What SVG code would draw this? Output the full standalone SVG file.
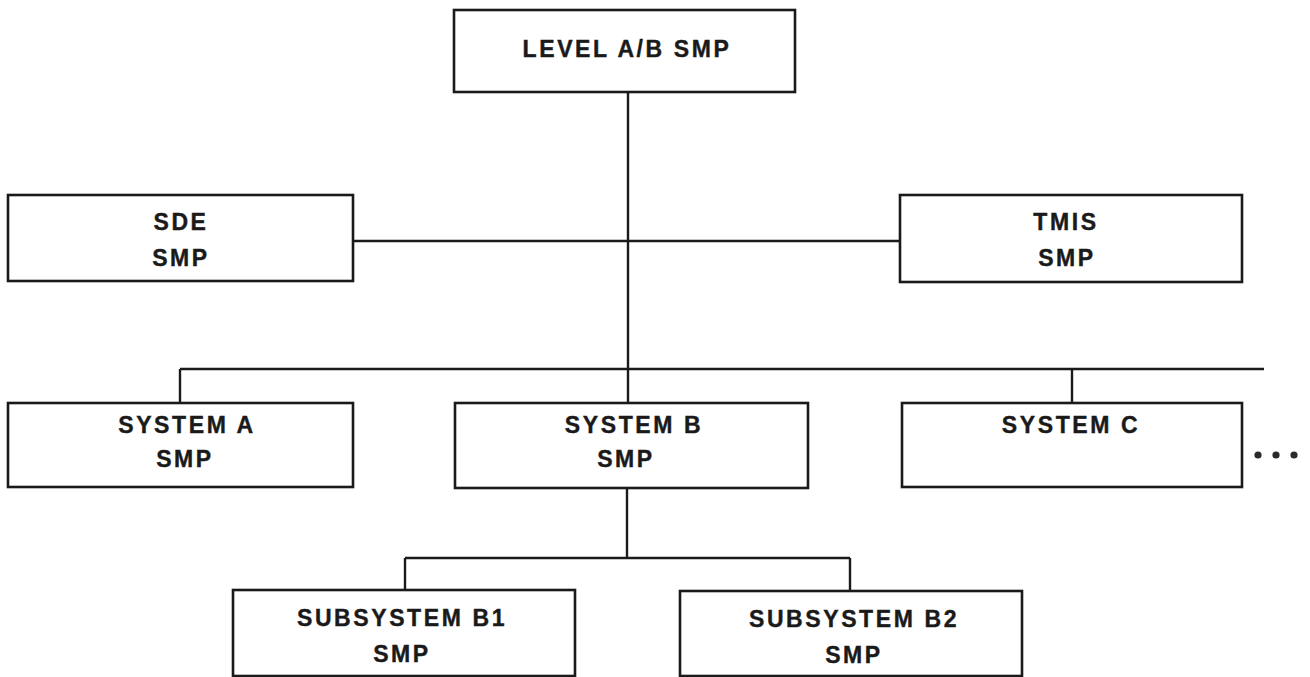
<svg xmlns="http://www.w3.org/2000/svg" width="1310" height="677" viewBox="0 0 1310 677">
  <style>
    .box { fill: #ffffff; stroke: #1a1a1a; stroke-width: 2.6; }
    .wire { fill: none; stroke: #1a1a1a; stroke-width: 2.4; }
    .lbl { font-family: "Liberation Sans", Arial, sans-serif; font-weight: bold; font-size: 23px; letter-spacing: 2.6px; fill: #1a1a1a; stroke: #1a1a1a; stroke-width: 0.4; text-anchor: middle; }
    .dot { fill: #2a2a2a; }
  </style>
  <rect width="1310" height="677" fill="#ffffff"/>

  <!-- connectors -->
  <g id="connectors">
    <line class="wire" x1="628" y1="92" x2="628" y2="403"/>
    <line class="wire" x1="353" y1="241" x2="900" y2="241"/>
    <line class="wire" x1="180" y1="369" x2="1264" y2="369"/>
    <line class="wire" x1="180" y1="369" x2="180" y2="403"/>
    <line class="wire" x1="1072" y1="369" x2="1072" y2="403"/>
    <line class="wire" x1="627" y1="488" x2="627" y2="558"/>
    <line class="wire" x1="405" y1="558" x2="850" y2="558"/>
    <line class="wire" x1="405" y1="558" x2="405" y2="590"/>
    <line class="wire" x1="850" y1="558" x2="850" y2="590"/>
  </g>

  <!-- top level -->
  <g id="level-ab">
    <rect class="box" x="454" y="10" width="341" height="82"/>
    <text class="lbl" x="627" y="57">LEVEL A/B SMP</text>
  </g>

  <g id="sde">
    <rect class="box" x="8" y="195" width="345" height="86"/>
    <text class="lbl" x="181" y="230">SDE</text>
    <text class="lbl" x="181" y="266">SMP</text>
  </g>

  <g id="tmis">
    <rect class="box" x="900" y="195" width="342" height="87"/>
    <text class="lbl" x="1066" y="230">TMIS</text>
    <text class="lbl" x="1067" y="266">SMP</text>
  </g>

  <!-- systems -->
  <g id="system-a">
    <rect class="box" x="8" y="403" width="345" height="84"/>
    <text class="lbl" x="187" y="433">SYSTEM A</text>
    <text class="lbl" x="185" y="467">SMP</text>
  </g>

  <g id="system-b">
    <rect class="box" x="455" y="403" width="353" height="85"/>
    <text class="lbl" x="634" y="433">SYSTEM B</text>
    <text class="lbl" x="626" y="467">SMP</text>
  </g>

  <g id="system-c">
    <rect class="box" x="902" y="403" width="340" height="84"/>
    <text class="lbl" x="1071" y="433">SYSTEM C</text>
  </g>

  <g id="more-systems">
    <circle class="dot" cx="1258" cy="455" r="3.6"/>
    <circle class="dot" cx="1276" cy="455" r="3.6"/>
    <circle class="dot" cx="1294" cy="455" r="3.6"/>
  </g>

  <!-- subsystems -->
  <g id="subsystem-b1">
    <rect class="box" x="233" y="590" width="342" height="86"/>
    <text class="lbl" x="402" y="626">SUBSYSTEM B1</text>
    <text class="lbl" x="402" y="662">SMP</text>
  </g>

  <g id="subsystem-b2">
    <rect class="box" x="680" y="591" width="342" height="85"/>
    <text class="lbl" x="854" y="627">SUBSYSTEM B2</text>
    <text class="lbl" x="854" y="663">SMP</text>
  </g>
</svg>
